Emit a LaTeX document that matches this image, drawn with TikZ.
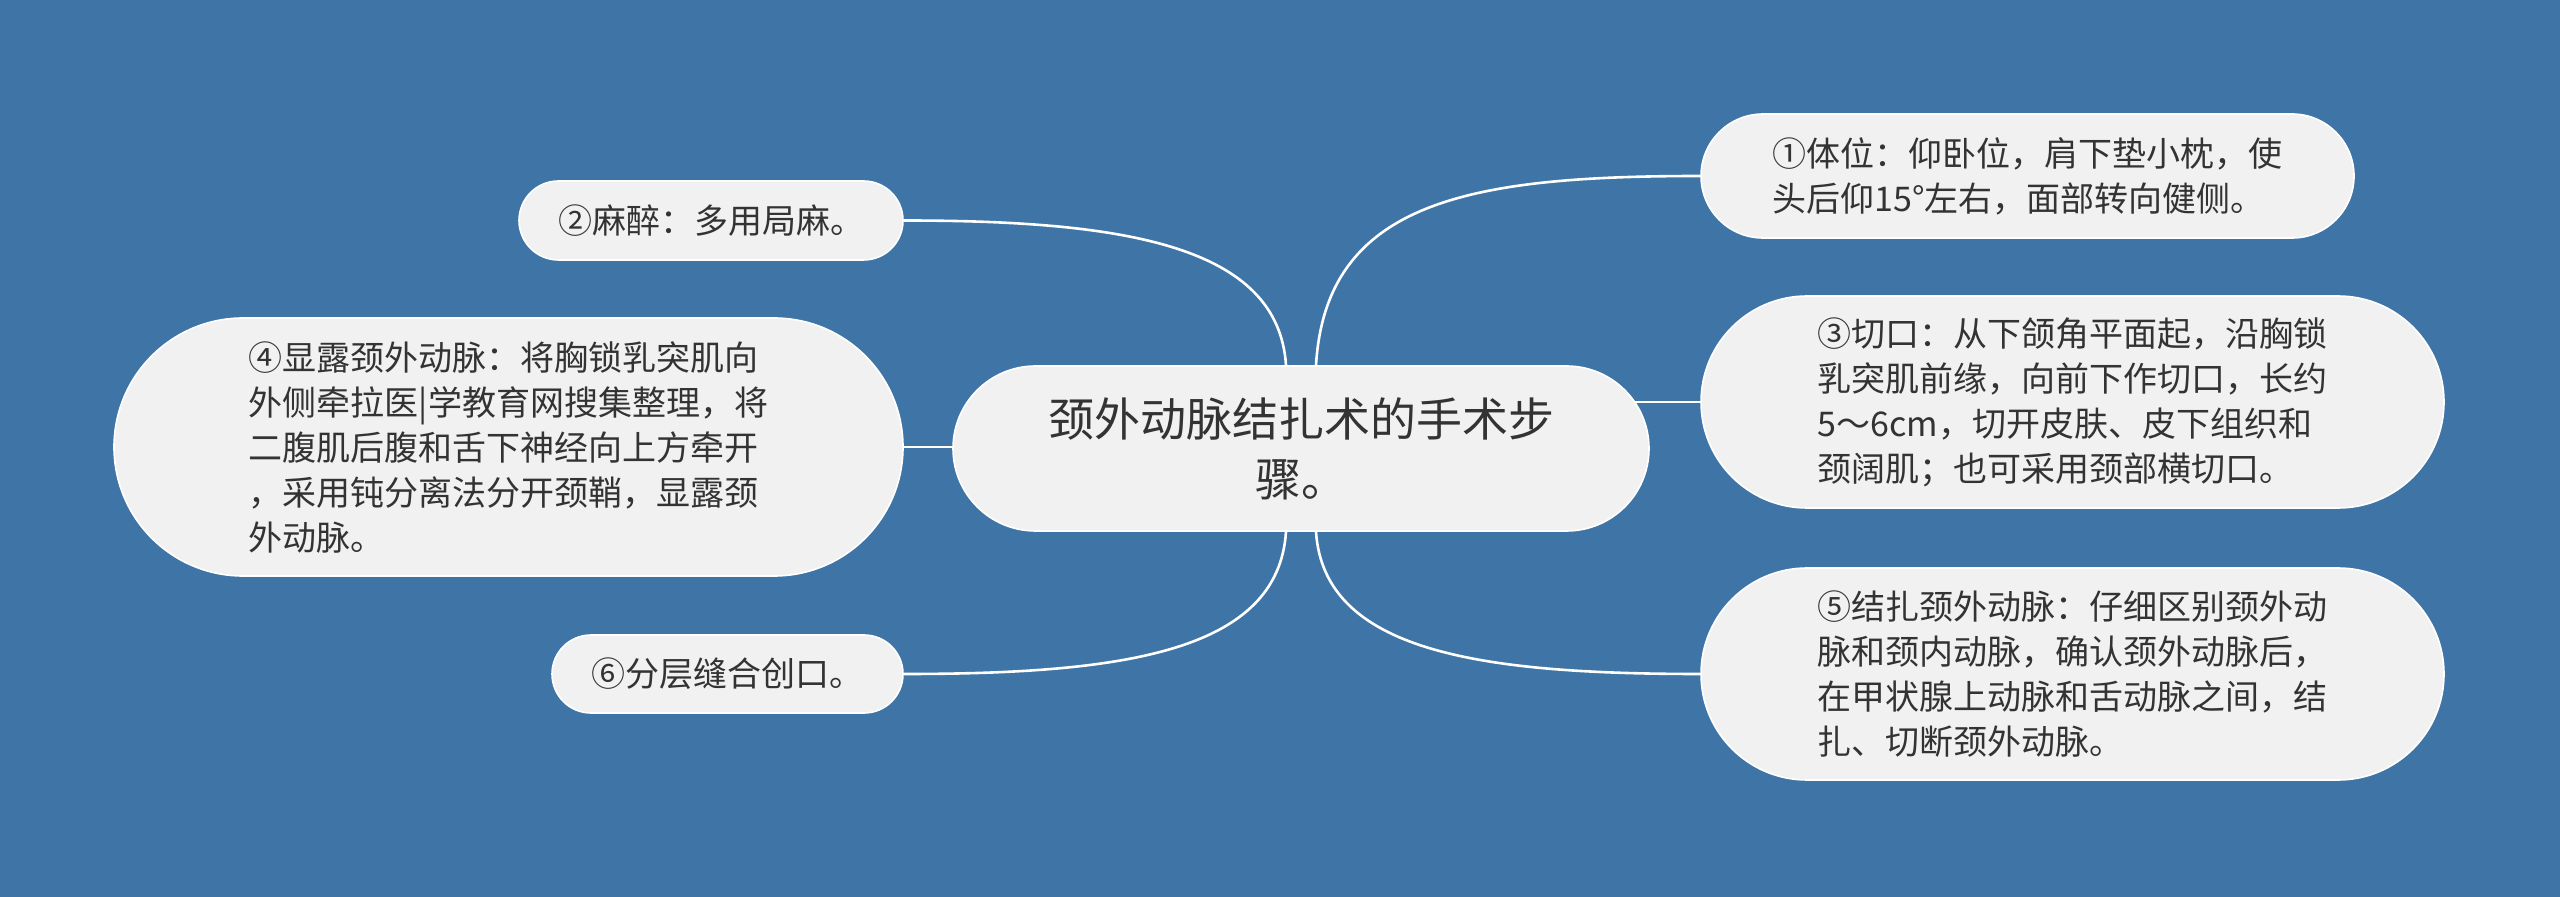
\documentclass[tikz,border=0pt]{standalone}
\usepackage{fontspec}
\setmainfont{Noto Sans CJK SC}
\usetikzlibrary{shapes.misc,backgrounds,calc}
\definecolor{bgblue}{HTML}{3E74A6}
\definecolor{boxgray}{HTML}{F1F1F1}
\definecolor{txtgray}{HTML}{333333}

\begin{document}
\begin{tikzpicture}[x=0.5pt,y=-0.5pt,
  topic/.style={rounded rectangle, fill=boxgray, draw=white, line width=0.8pt, text=txtgray, inner sep=0pt},
  leaf/.style={topic, align=left, font=\fontsize{17pt}{22.5pt}\selectfont},
  link/.style={draw=white, line width=1.3pt}]
\useasboundingbox (0,0) rectangle (2560,897);
% centre
\node[topic, minimum width=348pt, minimum height=82.5pt, align=center, font=\fontsize{23pt}{30pt}\selectfont] (title) at (1301,448.5) {颈外动脉结扎术的手术步\\骤。};
% right side
\node[leaf, minimum width=326.5pt, minimum height=62pt] (step1) at (2027.5,176) {①体位：仰卧位，肩下垫小枕，使\\头后仰15°左右，面部转向健侧。};
\node[leaf, minimum width=371.5pt, minimum height=106pt] (step3) at (2072.5,402) {③切口：从下颌角平面起，沿胸锁\\乳突肌前缘，向前下作切口，长约\\5～6cm，切开皮肤、皮下组织和\\颈阔肌；也可采用颈部横切口。};
\node[leaf, minimum width=371.5pt, minimum height=106pt] (step5) at (2072.5,674) {⑤结扎颈外动脉：仔细区别颈外动\\脉和颈内动脉，确认颈外动脉后，\\在甲状腺上动脉和舌动脉之间，结\\扎、切断颈外动脉。};
% left side
\node[leaf, minimum width=192pt, minimum height=39.5pt] (step2) at (711,220.5) {②麻醉：多用局麻。};
\node[leaf, minimum width=394.5pt, minimum height=129pt] (step4) at (508.5,447) {④显露颈外动脉：将胸锁乳突肌向\\外侧牵拉医|学教育网搜集整理，将\\二腹肌后腹和舌下神经向上方牵开\\，采用钝分离法分开颈鞘，显露颈\\外动脉。};
\node[leaf, minimum width=175.5pt, minimum height=39pt] (step6) at (727.5,674) {⑥分层缝合创口。};
\begin{scope}[on background layer]
\fill[bgblue] (0,0) rectangle (2560,897);
\draw[link] ($(title.north)+(15,0)$) .. controls +(10,-164) and +(-231,0) .. (step1.west);
\draw[link] (step3.west) -- (title.center |- step3.west);
\draw[link] ($(title.south)+(15,0)$) .. controls +(8,120) and +(-220,0) .. (step5.west);
\draw[link] ($(title.north)+(-15,0)$) .. controls +(-8,-120) and +(220,0) .. (step2.east);
\draw[link] (step4.east) -- (title.center |- step4.east);
\draw[link] ($(title.south)+(-15,0)$) .. controls +(-8,120) and +(220,0) .. (step6.east);
\end{scope}
\end{tikzpicture}
\end{document}
